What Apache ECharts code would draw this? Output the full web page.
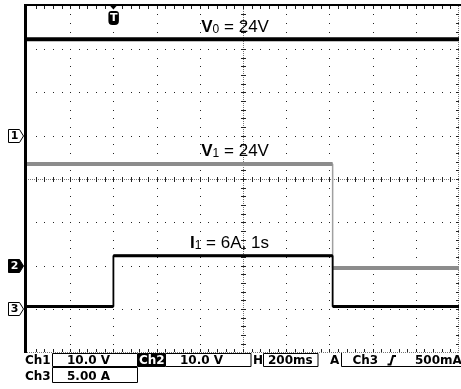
<!DOCTYPE html>
<html>
<head>
<meta charset="utf-8">
<script src="https://cdn.jsdelivr.net/npm/echarts@6/dist/echarts.min.js"></script>
<style>
  html, body { margin: 0; padding: 0; background: #fff; }
  #scope { width: 461px; height: 389px; }
</style>
</head>
<body>
<div id="scope"></div>
<script>
// Time base: 200 ms/div over 10 divisions, trigger two divisions from the left
const timeMin = -0.4;
const timeMax = 1.6;
const timeDiv = 0.2;

// Ch1: output voltage V0 (V)
const v0Times = [-0.4, 1.6];
const v0Values = [24, 24];
// Ch2: supply voltage V1 (V)
const v1Times = [-0.4, 1.015, 1.6];
const v1Values = [24, 0, 0];
// Ch3: load current I1 (A)
const i1Times = [-0.4, 0, 1.015, 1.6];
const i1Values = [0.15, 6, 0.15, 0.15];

// Vertical settings per channel: units per division, trace offset (div)
const channelPerDiv = [10, 10, 5];
const channelOffset = [0.82, -2.054, -2.968];

// Ground reference markers on the left edge (divisions from centre)
const groundLabels = ['1', '2', '3'];
const groundLevels = [1, -2, -3];
const groundFilled = [false, true, false];

// Readout bar texts
const scaleTexts = ['10.0 V', '10.0 V', '5.00 A'];
const timebaseText = '200ms';
const triggerSource = 'Ch3';
const triggerLevel = '500mA';

const xy = (ts, vs) => ts.map((t, i) => [t, vs[i]]);
// flat parts of a step trace, broken at every transition
const flats = (ts, vs) => {
  const out = [];
  for (let i = 0; i < ts.length - 1; i++) {
    out.push([ts[i], vs[i]], [ts[i + 1], vs[i]]);
    if (i < ts.length - 2) out.push([ts[i + 1], '-']);
  }
  return out;
};

function renderScreen(params, api) {
  const [x0, y0] = api.coord([timeMin, 4]);
  const [x1, y1] = api.coord([timeMax, -4]);
  const dark = [], light = [];
  const px = (arr, x, y, w, h) => {
    const rx = Math.round(x), ry = Math.round(y);
    arr.push('M' + rx + ' ' + ry + 'L' + (rx + w) + ' ' + ry + 'L' + (rx + w) + ' ' + (ry + h) + 'L' + rx + ' ' + (ry + h) + 'Z');
  };
  const nX = Math.round((timeMax - timeMin) / timeDiv) * 5;
  const nY = 40;
  const mx = i => api.coord([timeMin + i * timeDiv / 5, 0])[0];
  const my = j => api.coord([timeMin, -4 + j * 0.2])[1];

  for (let i = 5; i < nX; i += 5) {
    const x = mx(i);
    if (i === nX / 2) {
      for (let y = y0 + 1; y < y1; y += 2) px(light, x, y, 1, 1);
      for (let j = 1; j < nY; j++) px(dark, x - 2, my(j), 5, 1);
    } else {
      for (let j = 1; j < nY; j++) px(dark, x, my(j), 1, 1);
    }
  }
  for (let j = 5; j < nY; j += 5) {
    const y = my(j);
    if (j === nY / 2) {
      for (let x = x0 + 1; x < x1; x += 2) px(light, x, y, 1, 1);
      for (let i = 1; i < nX; i++) px(dark, mx(i), y - 2, 1, 5);
    } else {
      for (let i = 1; i < nX; i++) px(dark, mx(i), y, 1, 1);
    }
  }
  // frame ticks
  for (let i = 1; i < nX; i++) {
    px(dark, mx(i), y0 + 0.5, 1, 3);
    px(dark, mx(i), y1 - 3.5, 1, 3);
  }
  for (let j = 1; j < nY; j++) px(dark, x1 - 3, my(j), 3, 1);
  for (let x = x0; x < x1; x += 2) px(light, x, y1 - 0.5, 1, 1);
  for (let y = y0; y < y1; y += 2) px(light, x1 - 1, y, 1, 1);

  const children = [
    { type: 'path', shape: { pathData: light.join('') }, style: { fill: '#777' } },
    { type: 'path', shape: { pathData: dark.join('') }, style: { fill: '#222' } },
    { type: 'rect', shape: { x: Math.round(x0) - 3, y: Math.round(y0) - 2, width: Math.round(x1 - x0) + 6, height: 2 }, style: { fill: '#000' } },
    { type: 'rect', shape: { x: Math.round(x0) - 3, y: Math.round(y0) - 2, width: 3, height: Math.round(y1 - y0) + 2 }, style: { fill: '#000' } }
  ];

  // trigger position marker
  const tx = api.coord([0, 4])[0];
  children.push(
    { type: 'polygon', shape: { points: [[tx - 4.5, y0 - 1], [tx + 4.5, y0 - 1], [tx, y0 + 4]] }, style: { fill: '#000' } },
    { type: 'rect', shape: { x: tx - 5, y: y0 + 5.5, width: 10.5, height: 14, r: [3, 3, 4, 4] }, style: { fill: '#000' } },
    { type: 'text', x: tx + 0.3, y: y0 + 12.8, style: { text: 'T', fill: '#fff', font: 'bold 11px "DejaVu Sans"', align: 'center', verticalAlign: 'middle' } }
  );

  // channel ground markers
  groundLevels.forEach((lv, k) => {
    const yc = Math.round(api.coord([timeMin, lv])[1]);
    const L = Math.round(x0) - 18.5, R = Math.round(x0) - 7.5, T = Math.round(x0) - 3.5;
    children.push(
      { type: 'polygon', shape: { points: [[L, yc - 6.5], [R, yc - 6.5], [T, yc], [R, yc + 6.5], [L, yc + 6.5]] },
        style: { fill: groundFilled[k] ? '#000' : '#fff', stroke: '#000', lineWidth: 1 } },
      { type: 'text', x: (L + R) / 2 + 0.5, y: yc + 0.5,
        style: { text: groundLabels[k], fill: groundFilled[k] ? '#fff' : '#000', font: 'bold 11px "DejaVu Sans"', align: 'center', verticalAlign: 'middle' } }
    );
  });
  return { type: 'group', children };
}

const richText = {
  b: { fontFamily: 'Liberation Sans', fontWeight: 'bold', fontSize: 17, color: '#000', verticalAlign: 'bottom', lineHeight: 20 },
  s: { fontFamily: 'Liberation Sans', fontSize: 12, color: '#000', verticalAlign: 'bottom', lineHeight: 20 },
  n: { fontFamily: 'Liberation Sans', fontSize: 17, color: '#000', verticalAlign: 'bottom', lineHeight: 20 }
};
const labelTime = 0.72;
const traceLabel = (text, value) => ({
  symbol: 'circle', symbolSize: 0, silent: true, animation: false,
  label: { show: true, position: 'inside', offset: [0, -14], align: 'right', verticalAlign: 'middle', formatter: text, rich: richText },
  data: [{ coord: [labelTime, value] }]
});

const pulseWidth = Math.round(i1Times[2] - i1Times[1]);

const yAxes = [{ min: -4, max: 4, interval: 1, show: false }].concat(
  channelPerDiv.map((d, k) => ({ min: (-4 - channelOffset[k]) * d, max: (4 - channelOffset[k]) * d, show: false }))
);

const font = 'bold 12px "DejaVu Sans"';
const txt = (x, y, text, fill) => ({ type: 'text', x, y, silent: true,
  style: { text, fill: fill || '#000', font, align: 'left', verticalAlign: 'middle' } });
const box = (x, y, w, h, fill) => ({ type: 'rect', silent: true, shape: { x, y, width: w, height: h },
  style: { fill: fill || '#fff', stroke: fill ? null : '#000', lineWidth: 1 } });

const chart = echarts.init(document.getElementById('scope'));
chart.setOption({
  animation: false,
  backgroundColor: '#fff',
  grid: { left: 27, top: 5.5, width: 432, height: 347, outerBoundsMode: 'none' },
  xAxis: { type: 'value', min: timeMin, max: timeMax, interval: timeDiv, show: false },
  yAxis: yAxes,
  series: [
    { type: 'custom', silent: true, clip: false, z: 1, xAxisIndex: 0, yAxisIndex: 0, data: [[0, 0]], renderItem: renderScreen },
    { type: 'line', yAxisIndex: 2, step: 'end', symbol: 'none', silent: true, z: 2,
      lineStyle: { color: '#a0a0a0', width: 1.5 }, data: xy(v1Times, v1Values) },
    { type: 'line', yAxisIndex: 2, symbol: 'none', silent: true, z: 2,
      lineStyle: { color: '#8c8c8c', width: 4 }, data: flats(v1Times, v1Values),
      markPoint: traceLabel(`{b|V}{s|1}{n| = ${v1Values[0]}V}`, v1Values[0]) },
    { type: 'line', yAxisIndex: 1, symbol: 'none', silent: true, z: 3,
      lineStyle: { color: '#000', width: 4 }, data: flats(v0Times, v0Values),
      markPoint: traceLabel(`{b|V}{s|0}{n| = ${v0Values[0]}V}`, v0Values[0]) },
    { type: 'line', yAxisIndex: 3, step: 'end', symbol: 'none', silent: true, z: 4,
      lineStyle: { color: '#000', width: 1.8 }, data: xy(i1Times, i1Values) },
    { type: 'line', yAxisIndex: 3, symbol: 'none', silent: true, z: 4,
      lineStyle: { color: '#000', width: 3 }, data: flats(i1Times, i1Values),
      markPoint: traceLabel(`{b|I}{s|1}{n| = ${i1Values[1]}A, ${pulseWidth}s}`, i1Values[1]) }
  ],
  graphic: [
    txt(25, 360.5, 'Ch1'),
    box(52.5, 353.5, 85, 13),
    txt(67, 360.5, scaleTexts[0]),
    box(138, 353, 27, 14, '#000'),
    txt(139, 360.5, 'Ch2', '#fff'),
    box(165.5, 353.5, 85.5, 13),
    txt(180, 360.5, scaleTexts[1]),
    txt(253, 360.5, 'H'),
    box(263.5, 353.5, 54.5, 13),
    txt(268, 360.5, timebaseText),
    txt(330, 360.5, 'A'),
    { type: 'polyline', silent: true, shape: { points: [[341.5, 353], [341.5, 366.5], [461, 366.5]] }, style: { stroke: '#000', lineWidth: 1, fill: null } },
    txt(352.5, 360.5, triggerSource),
    { type: 'polyline', silent: true, shape: { points: [[387.5, 364.5], [390.5, 364.5], [393, 356], [396, 356]] }, style: { stroke: '#000', lineWidth: 2, fill: null } },
    txt(415, 360.5, triggerLevel),
    txt(25, 376.5, 'Ch3'),
    box(52.5, 367.5, 85, 15),
    txt(67, 376.5, scaleTexts[2])
  ]
});
</script>
</body>
</html>
